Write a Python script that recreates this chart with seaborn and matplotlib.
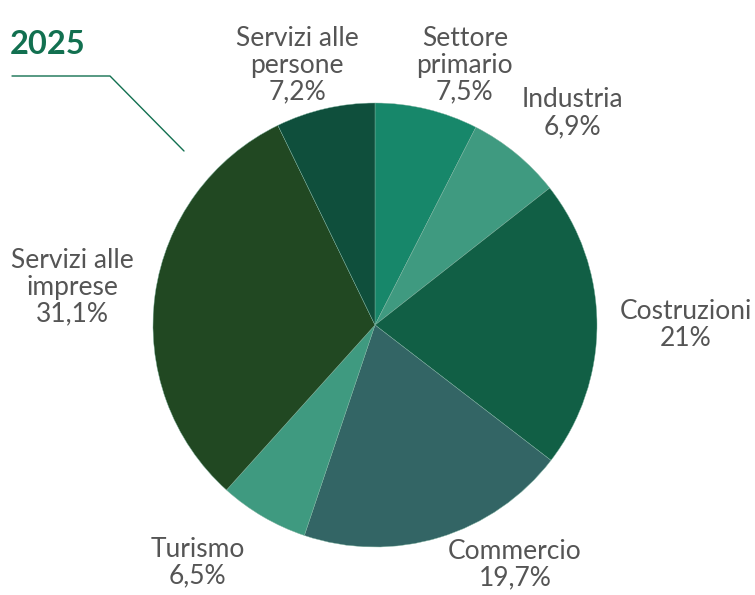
import matplotlib
matplotlib.use("Agg")
import matplotlib.pyplot as plt
import seaborn as sns

sns.set_style("white")
plt.rcParams['font.family'] = ['Lato', 'DejaVu Sans']

# Data
settori = ['Settore\nprimario', 'Industria', 'Costruzioni', 'Commercio',
           'Turismo', 'Servizi alle\nimprese', 'Servizi alle\npersone']
quote = [7.5, 6.9, 21.0, 19.7, 6.5, 31.1, 7.2]
quote_txt = ['7,5%', '6,9%', '21%', '19,7%', '6,5%', '31,1%', '7,2%']
colori = ['#17876a', '#3f9a80', '#115f45', '#336565', '#3f9a80', '#214822', '#0f4f3c']
anno = '2025'

# label positions (in pie radius units)
label_pos = [(0.405, 1.17), (0.89, 0.955), (1.40, 0.0), (0.63, -1.08),
             (-0.80, -1.07), (-1.365, 0.17), (-0.35, 1.17)]

fig = plt.figure(figsize=(7.55, 5.95), dpi=100)
r = 222
ax = fig.add_axes([(375 - r) / 755, 1 - (325 + r) / 595, 2 * r / 755, 2 * r / 595])
ax.pie(quote, colors=colori, startangle=90, counterclock=False, radius=1,
       wedgeprops=dict(edgecolor='#7fb3a0', linewidth=0.3))
ax.set_xlim(-1, 1)
ax.set_ylim(-1, 1)
ax.set_aspect('equal')
ax.axis('off')

for s, t, (x, y) in zip(settori, quote_txt, label_pos):
    ax.text(x, y, s + '\n' + t, ha='center', va='center', fontsize=19,
            color='#555555', linespacing=1.1, clip_on=False)

fig.text(10 / 755, 1 - 45 / 595, anno, fontsize=23.5, fontweight='bold',
         color='#127050', ha='left', va='center')
fig.add_artist(plt.Line2D([12 / 755, 110 / 755, 184 / 755],
                          [1 - 76 / 595, 1 - 76 / 595, 1 - 151 / 595],
                          color='#127050', lw=1))

fig.savefig('out.png', dpi=100)
